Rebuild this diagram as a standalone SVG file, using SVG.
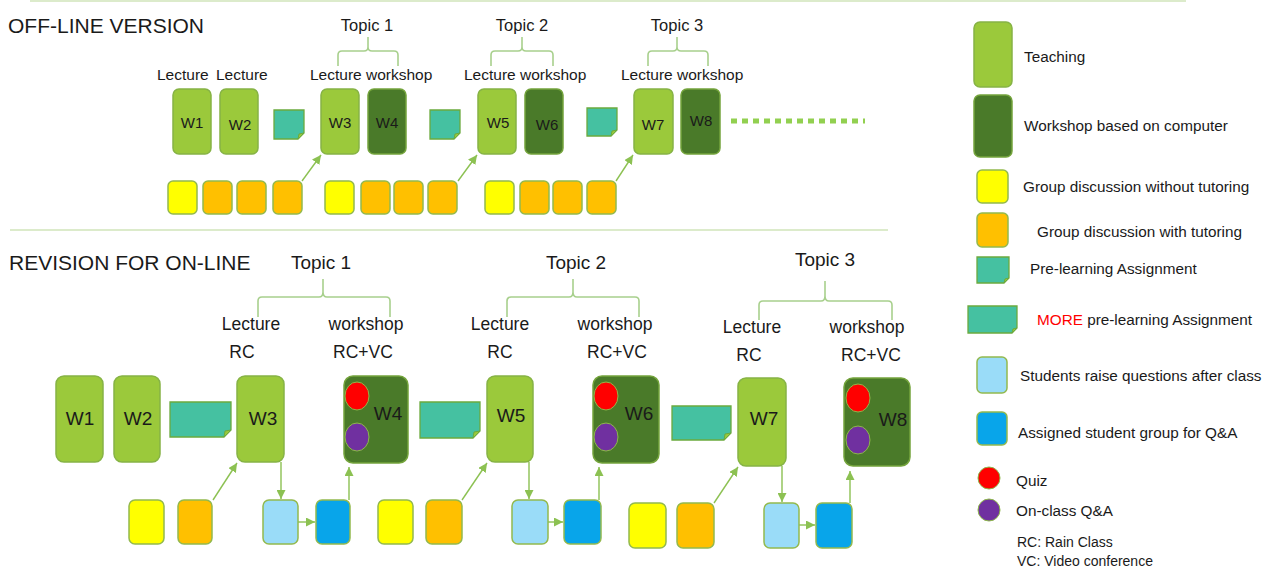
<svg xmlns="http://www.w3.org/2000/svg" width="1270" height="569" viewBox="0 0 1270 569">
<style>
  text { font-family: "Liberation Sans", Arial, sans-serif; fill: #1a1a1a; }
  .title { font-size: 21px; }
  .topicS { font-size: 16.5px; text-anchor: middle; }
  .topicL { font-size: 19px; text-anchor: middle; }
  .lblS { font-size: 15.5px; }
  .lblL { font-size: 17.5px; text-anchor: middle; }
  .wS { font-size: 15px; text-anchor: middle; }
  .wL { font-size: 19px; text-anchor: middle; }
  .leg { font-size: 15.3px; }
  .abbr { font-size: 14px; }
  .teach { fill: #9BC93B; stroke: #86B345; stroke-width: 1.5; }
  .work { fill: #4A7A29; stroke: #74A43C; stroke-width: 1.5; }
  .yel { fill: #FFFF00; stroke: #93B94E; stroke-width: 1.5; }
  .ora { fill: #FFC000; stroke: #93B94E; stroke-width: 1.5; }
  .lb { fill: #9ADCF8; stroke: #93B94E; stroke-width: 1.5; }
  .blu { fill: #08A5EA; stroke: #93B94E; stroke-width: 1.5; }
  .note { fill: #45C1A1; stroke: #6BAA3E; stroke-width: 1.3; }
  .fold { fill: #9BC93B; stroke: #6BAA3E; stroke-width: 1; }
  .quiz { fill: #FF0000; stroke: #8DB84A; stroke-width: 1; }
  .qa { fill: #7030A0; stroke: #8DB84A; stroke-width: 1; }
  .brace { fill: none; stroke: #A8D08D; stroke-width: 1.6; }
  .sep { stroke: #DCEBCB; stroke-width: 2; }
  .conn { fill: none; stroke: #8CC152; stroke-width: 1.4; marker-end: url(#arr); }
</style>
<defs>
  <marker id="arr" viewBox="0 0 10 10" refX="10" refY="5" markerUnits="userSpaceOnUse" markerWidth="9" markerHeight="9" orient="auto">
    <path d="M0,0 L10,5 L0,10 z" fill="#8CC152"/>
  </marker>
</defs>
<rect width="1270" height="569" fill="#ffffff"/>

<!-- separators -->
<line class="sep" x1="30" y1="1" x2="1186" y2="1"/>
<line class="sep" x1="10" y1="230" x2="888" y2="230"/>

<!-- ===== OFF-LINE VERSION ===== -->
<text class="title" x="8" y="33">OFF-LINE VERSION</text>

<g id="top-topics">
  <text class="topicS" x="367" y="31">Topic 1</text>
  <text class="topicS" x="522" y="31">Topic 2</text>
  <text class="topicS" x="677" y="31">Topic 3</text>
  <path class="brace" d="M338,66 V55 Q338,51 342,51 H364 Q368,51 368,47 V37 M368,47 Q368,51 372,51 H394 Q398,51 398,55 V66"/>
  <path class="brace" d="M491,66 V55 Q491,51 495,51 H518 Q522,51 522,47 V37 M522,47 Q522,51 526,51 H549 Q553,51 553,55 V66"/>
  <path class="brace" d="M648,66 V55 Q648,51 652,51 H673 Q677,51 677,47 V37 M677,47 Q677,51 681,51 H704 Q708,51 708,55 V66"/>
  <text class="lblS" x="157" y="80">Lecture</text>
  <text class="lblS" x="216" y="80">Lecture</text>
  <text class="lblS" x="310" y="80">Lecture workshop</text>
  <text class="lblS" x="464" y="80">Lecture workshop</text>
  <text class="lblS" x="621" y="80">Lecture workshop</text>
</g>

<g id="top-W1"><rect class="teach" x="173" y="89" width="38" height="65" rx="6"/><text class="wS" x="192" y="128">W1</text></g>
<g id="top-W2"><rect class="teach" x="220" y="89" width="38" height="65" rx="6"/><text class="wS" x="240" y="130">W2</text></g>
<g id="top-note1"><path class="note" d="M274,110 H304 V133 L298,139 H274 Z"/><path class="fold" d="M298,139 L299,134 L304,133 Z"/></g>
<g id="top-W3"><rect class="teach" x="321" y="89" width="38" height="65" rx="6"/><text class="wS" x="340" y="128">W3</text></g>
<g id="top-W4"><rect class="work" x="368" y="89" width="38" height="65" rx="6"/><text class="wS" x="387" y="128">W4</text></g>
<g id="top-note2"><path class="note" d="M430,110 H460 V133 L454,139 H430 Z"/><path class="fold" d="M454,139 L455,134 L460,133 Z"/></g>
<g id="top-W5"><rect class="teach" x="478" y="89" width="38" height="65" rx="6"/><text class="wS" x="498" y="128">W5</text></g>
<g id="top-W6"><rect class="work" x="525" y="89" width="38" height="65" rx="6"/><text class="wS" x="547" y="130">W6</text></g>
<g id="top-note3"><path class="note" d="M587,108 H617 V130 L611,136 H587 Z"/><path class="fold" d="M611,136 L612,131 L617,130 Z"/></g>
<g id="top-W7"><rect class="teach" x="634" y="89" width="39" height="65" rx="6"/><text class="wS" x="653" y="130">W7</text></g>
<g id="top-W8"><rect class="work" x="681" y="89" width="39" height="65" rx="6"/><text class="wS" x="701" y="126">W8</text></g>
<line x1="731" y1="121" x2="865" y2="121" stroke="#92D050" stroke-width="5" stroke-dasharray="6 5"/>

<g id="top-groups">
  <rect class="yel" x="168" y="181" width="29" height="33" rx="5"/>
  <rect class="ora" x="203" y="181" width="29" height="33" rx="5"/>
  <rect class="ora" x="237" y="181" width="29" height="33" rx="5"/>
  <rect class="ora" x="273" y="181" width="29" height="33" rx="5"/>
  <rect class="yel" x="325" y="181" width="29" height="33" rx="5"/>
  <rect class="ora" x="361" y="181" width="29" height="33" rx="5"/>
  <rect class="ora" x="394" y="181" width="29" height="33" rx="5"/>
  <rect class="ora" x="428" y="181" width="29" height="33" rx="5"/>
  <rect class="yel" x="485" y="181" width="29" height="33" rx="5"/>
  <rect class="ora" x="520" y="181" width="29" height="33" rx="5"/>
  <rect class="ora" x="553" y="181" width="29" height="33" rx="5"/>
  <rect class="ora" x="587" y="181" width="29" height="33" rx="5"/>
</g>

<!-- ===== REVISION FOR ON-LINE ===== -->
<text class="title" x="9" y="270">REVISION FOR ON-LINE</text>

<g id="bottom-topics">
  <text class="topicL" x="321" y="269">Topic 1</text>
  <text class="topicL" x="576" y="269">Topic 2</text>
  <text class="topicL" x="825" y="266">Topic 3</text>
  <path class="brace" d="M258,317 V301 Q258,297 262,297 H319 Q323,297 323,292 V279 M323,292 Q323,297 327,297 H386 Q390,297 390,301 V317"/>
  <path class="brace" d="M507,317 V301 Q507,297 511,297 H569 Q573,297 573,292 V279 M573,292 Q573,297 577,297 H635 Q639,297 639,301 V317"/>
  <path class="brace" d="M759,320 V305 Q759,301 763,301 H821 Q825,301 825,296 V281 M825,296 Q825,301 829,301 H888 Q892,301 892,305 V320"/>
  <text class="lblL" x="251" y="330">Lecture</text>
  <text class="lblL" x="366" y="330">workshop</text>
  <text class="lblL" x="242" y="358">RC</text>
  <text class="lblL" x="363" y="358">RC+VC</text>
  <text class="lblL" x="500" y="330">Lecture</text>
  <text class="lblL" x="615" y="330">workshop</text>
  <text class="lblL" x="500" y="358">RC</text>
  <text class="lblL" x="617" y="358">RC+VC</text>
  <text class="lblL" x="752" y="333">Lecture</text>
  <text class="lblL" x="867" y="333">workshop</text>
  <text class="lblL" x="749" y="361">RC</text>
  <text class="lblL" x="871" y="361">RC+VC</text>
</g>

<g id="W1"><rect class="teach" x="56" y="376" width="47" height="86" rx="8"/><text class="wL" x="80" y="425">W1</text></g>
<g id="W2"><rect class="teach" x="114" y="376" width="46" height="86" rx="8"/><text class="wL" x="138" y="425">W2</text></g>
<g id="note1"><path class="note" d="M170,402 H231 V430 L224,437 H170 Z"/><path class="fold" d="M224,437 L225,431 L231,430 Z"/></g>
<g id="W3"><rect class="teach" x="237" y="376" width="47" height="86" rx="8"/><text class="wL" x="263" y="425">W3</text></g>
<g id="W4"><rect class="work" x="344" y="376" width="64" height="87" rx="9"/><ellipse class="quiz" cx="357" cy="396" rx="12" ry="14"/><ellipse class="qa" cx="357" cy="437" rx="12" ry="14"/><text class="wL" x="388" y="420">W4</text></g>
<g id="note2"><path class="note" d="M420,402 H480 V431 L473,438 H420 Z"/><path class="fold" d="M473,438 L474,432 L480,431 Z"/></g>
<g id="W5"><rect class="teach" x="487" y="376" width="46" height="86" rx="8"/><text class="wL" x="511" y="422">W5</text></g>
<g id="W6"><rect class="work" x="593" y="376" width="66" height="87" rx="9"/><ellipse class="quiz" cx="606" cy="396" rx="12" ry="14"/><ellipse class="qa" cx="606" cy="437" rx="12" ry="14"/><text class="wL" x="639" y="420">W6</text></g>
<g id="note3"><path class="note" d="M672,406 H731 V433 L724,440 H672 Z"/><path class="fold" d="M724,440 L725,434 L731,433 Z"/></g>
<g id="W7"><rect class="teach" x="738" y="378" width="48" height="88" rx="8"/><text class="wL" x="764" y="425">W7</text></g>
<g id="W8"><rect class="work" x="844" y="378" width="66" height="88" rx="9"/><ellipse class="quiz" cx="858" cy="398" rx="12" ry="14"/><ellipse class="qa" cx="858" cy="440" rx="12" ry="14"/><text class="wL" x="893" y="426">W8</text></g>

<g id="groups1">
  <rect class="yel" x="129" y="500" width="35" height="44" rx="6"/>
  <rect class="ora" x="178" y="500" width="34" height="44" rx="6"/>
  <rect class="lb" x="263" y="500" width="35" height="44" rx="6"/>
  <rect class="blu" x="316" y="500" width="34" height="44" rx="6"/>
</g>
<g id="groups2">
  <rect class="yel" x="378" y="500" width="35" height="44" rx="6"/>
  <rect class="ora" x="426" y="500" width="36" height="44" rx="6"/>
  <rect class="lb" x="512" y="500" width="36" height="44" rx="6"/>
  <rect class="blu" x="564" y="500" width="37" height="44" rx="6"/>
</g>
<g id="groups3">
  <rect class="yel" x="629" y="503" width="37" height="45" rx="6"/>
  <rect class="ora" x="677" y="503" width="37" height="45" rx="6"/>
  <rect class="lb" x="764" y="503" width="35" height="45" rx="6"/>
  <rect class="blu" x="816" y="503" width="36" height="45" rx="6"/>
</g>

<g id="connectors">
  <line class="conn" x1="302" y1="181" x2="321" y2="155"/>
  <line class="conn" x1="458" y1="181" x2="477" y2="155"/>
  <line class="conn" x1="616" y1="181" x2="633" y2="155"/>
  <line class="conn" x1="213" y1="500" x2="237" y2="463"/>
  <line class="conn" x1="281" y1="462" x2="281" y2="499"/>
  <line class="conn" x1="298" y1="522" x2="315" y2="522"/>
  <line class="conn" x1="349" y1="500" x2="349" y2="467"/>
  <line class="conn" x1="462" y1="500" x2="487" y2="463"/>
  <line class="conn" x1="529" y1="462" x2="529" y2="499"/>
  <line class="conn" x1="548" y1="522" x2="563" y2="522"/>
  <line class="conn" x1="599" y1="500" x2="599" y2="467"/>
  <line class="conn" x1="714" y1="503" x2="738" y2="467"/>
  <line class="conn" x1="782" y1="466" x2="782" y2="502"/>
  <line class="conn" x1="799" y1="525" x2="815" y2="525"/>
  <line class="conn" x1="850" y1="503" x2="850" y2="471"/>
</g>

<!-- ===== LEGEND ===== -->
<g id="legend-teaching"><rect class="teach" x="974" y="22" width="38" height="65" rx="6"/><text class="leg" x="1024" y="62">Teaching</text></g>
<g id="legend-workshop"><rect class="work" x="974" y="95" width="38" height="62" rx="6"/><text class="leg" x="1024" y="131">Workshop based on computer</text></g>
<g id="legend-yellow"><rect class="yel" x="977" y="170" width="31" height="33" rx="5"/><text class="leg" x="1023" y="192">Group discussion without tutoring</text></g>
<g id="legend-orange"><rect class="ora" x="977" y="213" width="31" height="34" rx="5"/><text class="leg" x="1037" y="237">Group discussion with tutoring</text></g>
<g id="legend-note"><path class="note" d="M977,257 H1009 V278 L1004,283 H977 Z"/><path class="fold" d="M1004,283 L1005,279 L1009,278 Z"/><text class="leg" x="1030" y="274">Pre-learning Assignment</text></g>
<g id="legend-morenote"><path class="note" d="M968,306 H1017 V328 L1012,333 H968 Z"/><path class="fold" d="M1012,333 L1013,329 L1017,328 Z"/><text class="leg" x="1037" y="325"><tspan fill="#FF0000">MORE</tspan> pre-learning Assignment</text></g>
<g id="legend-lightblue"><rect class="lb" x="977" y="357" width="30" height="36" rx="5"/><text class="leg" x="1020" y="381">Students raise questions after class</text></g>
<g id="legend-blue"><rect class="blu" x="977" y="412" width="30" height="33" rx="5"/><text class="leg" x="1018" y="438">Assigned student group for Q&amp;A</text></g>
<g id="legend-quiz"><circle class="quiz" cx="989" cy="478" r="11"/><text class="leg" x="1016" y="486">Quiz</text></g>
<g id="legend-qa"><circle class="qa" cx="989" cy="510" r="11"/><text class="leg" x="1016" y="516">On-class Q&amp;A</text></g>
<g id="legend-abbr">
  <text class="abbr" x="1017" y="547">RC: Rain Class</text>
  <text class="abbr" x="1017" y="566">VC: Video conference</text>
</g>
</svg>
